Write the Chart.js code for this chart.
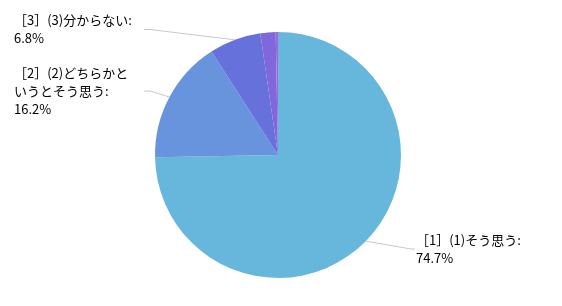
<!DOCTYPE html>
<html>
<head>
<meta charset="utf-8">
<script src="https://cdn.jsdelivr.net/npm/chart.js@4/dist/chart.umd.min.js"></script>
<style>
  html, body { margin: 0; padding: 0; background: #fff; }
  #wrap { width: 562px; height: 306px; }
</style>
</head>
<body>
<div id="wrap"><canvas id="pieChart" width="562" height="306"></canvas></div>
<script>
const categorias = [
  "［1］(1)そう思う:",
  "［2］(2)どちらかというとそう思う:",
  "［3］(3)分からない:",
  "［4］(4)どちらかというとそう思わない:",
  "［5］(5)そう思わない:"
];
const valores = [74.7, 16.2, 6.8, 2.0, 0.3];
const cores = ["#67b7dc", "#6794dc", "#6771dc", "#8067dc", "#a367dc"];

// onde cada rotulo fica (so layout)
const posRotulos = [
  { lado: "dir", x: 416, y: 249 },
  { lado: "esq", x: 144, y: 91 },
  { lado: "esq", x: 144, y: 29.5 }
];
const fonte = "13px 'Noto Sans CJK JP', 'Noto Sans', sans-serif";
const larguraMax = 121;
const alturaLinha = 18;

function quebrarTexto(ctx, texto) {
  const linhas = [];
  let atual = "";
  for (const c of texto) {
    if (atual && ctx.measureText(atual + c).width > larguraMax) {
      linhas.push(atual);
      atual = c;
    } else {
      atual += c;
    }
  }
  if (atual) linhas.push(atual);
  return linhas;
}

const rotulosPlugin = {
  id: "rotulos",
  afterDraw(chart) {
    const ctx = chart.ctx;
    const meta = chart.getDatasetMeta(0);
    ctx.save();
    ctx.font = fonte;
    meta.data.forEach((arco, i) => {
      const pos = posRotulos[i];
      if (!pos) return;
      const p = arco.getProps(["x", "y", "startAngle", "endAngle", "outerRadius"], true);
      const meio = (p.startAngle + p.endAngle) / 2;
      const px = p.x + Math.cos(meio) * p.outerRadius;
      const py = p.y + Math.sin(meio) * p.outerRadius;

      const cotovelo = pos.lado === "esq" ? pos.x + 6 : pos.x - 5;
      const fim = pos.lado === "esq" ? pos.x : pos.x - 1;
      ctx.strokeStyle = "#c8c8c8";
      ctx.lineWidth = 1;
      ctx.beginPath();
      ctx.moveTo(px, py);
      ctx.lineTo(cotovelo, pos.y);
      ctx.lineTo(fim, pos.y);
      ctx.stroke();

      const linhas = quebrarTexto(ctx, categorias[i]);
      linhas.push(valores[i].toFixed(1) + "%");
      const xTexto = pos.lado === "esq" ? 14 : pos.x;
      const y0 = pos.y - (linhas.length - 1) * alturaLinha / 2;
      ctx.fillStyle = "#000";
      ctx.textAlign = "left";
      ctx.textBaseline = "middle";
      linhas.forEach((l, k) => ctx.fillText(l, xTexto, y0 + k * alturaLinha));
    });
    ctx.restore();
  }
};

new Chart(document.getElementById("pieChart"), {
  type: "pie",
  data: {
    labels: categorias,
    datasets: [{
      data: valores,
      backgroundColor: cores,
      borderWidth: 0
    }]
  },
  options: {
    responsive: false,
    animation: false,
    layout: { padding: { top: 32, bottom: 28, left: 155, right: 161 } },
    plugins: {
      legend: { display: false },
      tooltip: { enabled: false }
    }
  },
  plugins: [rotulosPlugin]
});
</script>
</body>
</html>
